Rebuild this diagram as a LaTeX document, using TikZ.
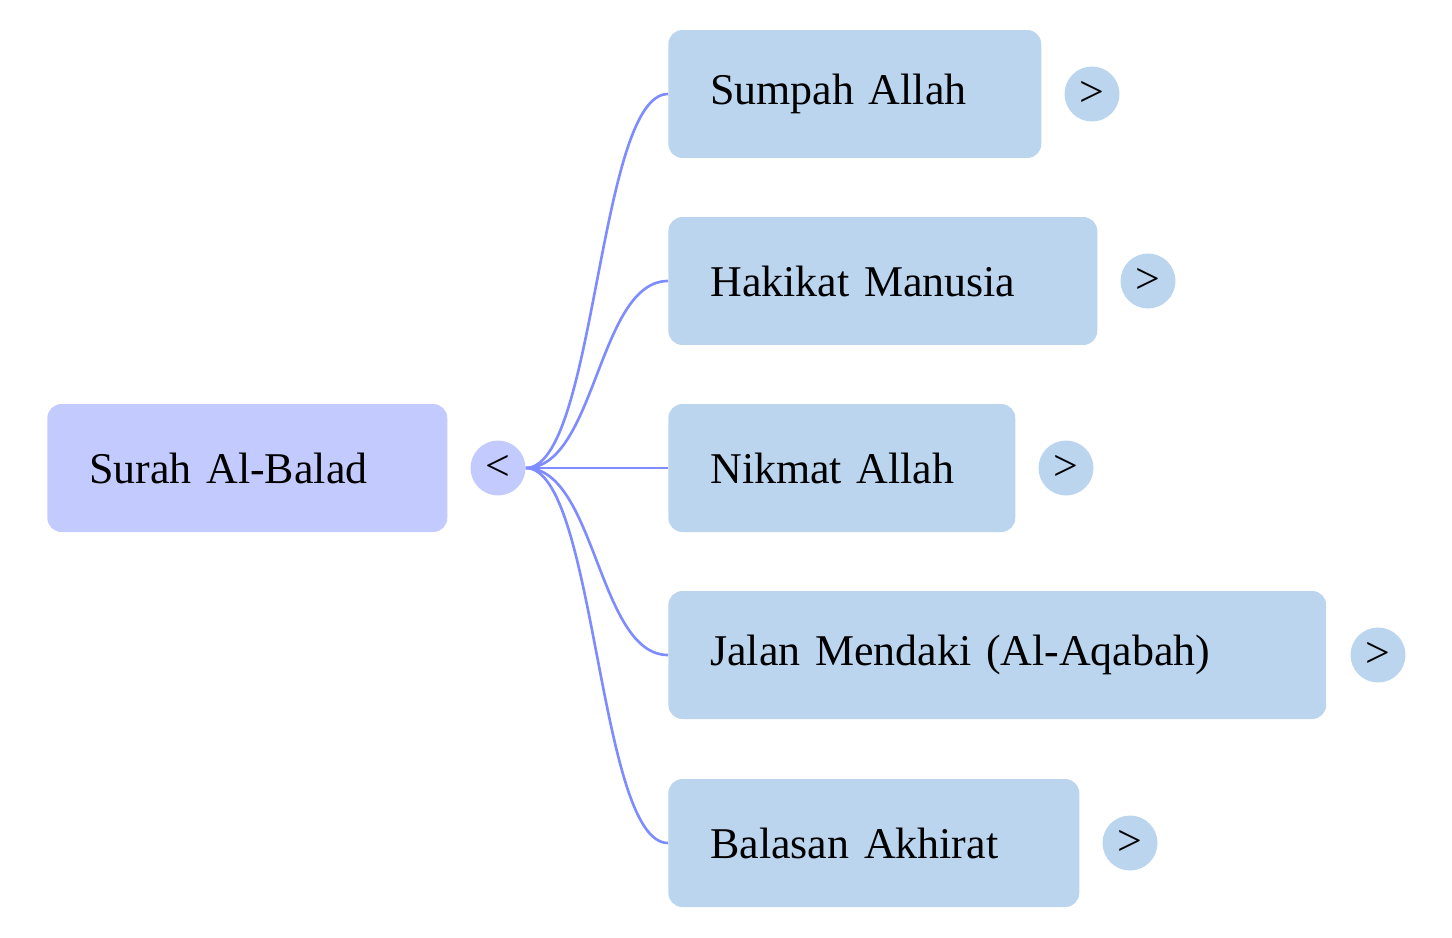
\documentclass[tikz,border=0pt]{standalone}
\usepackage{fontspec}
\setmainfont{Liberation Serif}
\definecolor{rootfill}{HTML}{C3CAFE}
\definecolor{leaffill}{HTML}{BBD5EF}
\definecolor{linkcol}{HTML}{7F8CFF}
\tikzset{
    box/.style={rounded corners=8pt, minimum height=2.56cm, anchor=west, inner xsep=0.84cm, font=\fontsize{25}{30}\selectfont},
    knob/.style={circle, minimum size=1.1cm, inner sep=0pt, font=\fontsize{25}{30}\selectfont},
    link/.style={linkcol, line width=1.5pt}
}
\begin{document}
\begin{tikzpicture}[x=0.02cm,y=-0.02cm]
    \useasboundingbox (0,0) rectangle (1452,937);

    \node[box, fill=rootfill, minimum width=8cm, text width=6.32cm] (root) at (47,468) {Surah Al-Balad};
    \node[knob, fill=rootfill] (hub) at (498,468) {<};

    \node[box, fill=leaffill, minimum width=7.46cm, text width=5.78cm] (sumpah) at (668,94) {Sumpah Allah};
    \node[knob, fill=leaffill] (k1) at (1092,94) {>};

    \node[box, fill=leaffill, minimum width=8.58cm, text width=6.9cm] (hakikat) at (668,281) {Hakikat Manusia};
    \node[knob, fill=leaffill] (k2) at (1148,281) {>};

    \node[box, fill=leaffill, minimum width=6.94cm, text width=5.26cm] (nikmat) at (668,468) {Nikmat Allah};
    \node[knob, fill=leaffill] (k3) at (1066,468) {>};

    \node[box, fill=leaffill, minimum width=13.16cm, text width=11.48cm] (jalan) at (668,655) {Jalan Mendaki (Al-Aqabah)};
    \node[knob, fill=leaffill] (k4) at (1378,655) {>};

    \node[box, fill=leaffill, minimum width=8.22cm, text width=6.54cm] (balasan) at (668,843) {Balasan Akhirat};
    \node[knob, fill=leaffill] (k5) at (1130,843) {>};

    % links from hub to each topic
    \foreach \t in {sumpah,hakikat,nikmat,jalan,balasan}
        \draw[link] (hub.east) .. controls +(70,0) and +(-70,0) .. (\t.west);
\end{tikzpicture}
\end{document}
